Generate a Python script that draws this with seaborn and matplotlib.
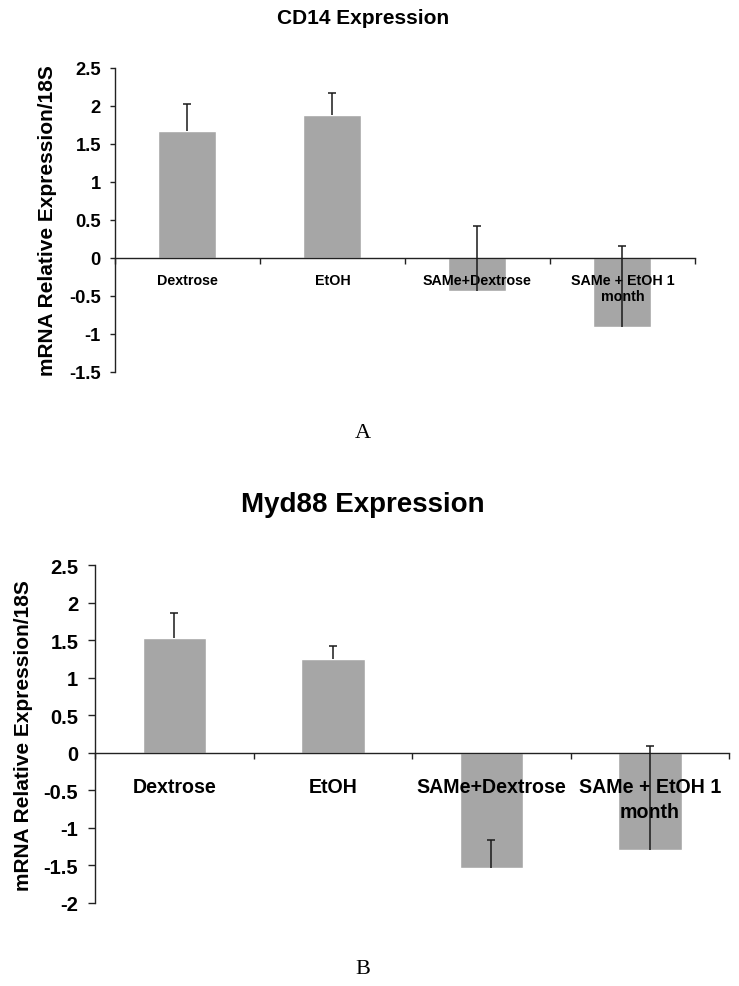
import numpy as np
import matplotlib
matplotlib.use("Agg")
import matplotlib.pyplot as plt
import seaborn as sns
from matplotlib.ticker import FuncFormatter

categories = ["Dextrose", "EtOH", "SAMe+Dextrose", "SAMe + EtOH 1\nmonth"]

cd14_values = [1.67, 1.88, -0.435, -0.905]
cd14_errors = [0.35, 0.295, 0.855, 1.06]

myd88_values = [1.53, 1.25, -1.54, -1.295]
myd88_errors = [0.335, 0.17, 0.38, 1.385]

cd14_yticks = [-1.5, -1, -0.5, 0, 0.5, 1, 1.5, 2, 2.5]
myd88_yticks = [-2, -1.5, -1, -0.5, 0, 0.5, 1, 1.5, 2, 2.5]

bar_color = "#a6a6a6"
err_color = "#1a1a1a"
axis_color = "#222222"

sns.set_theme(style="white")
plt.rcParams["font.family"] = ["Liberation Sans", "DejaVu Sans"]
plt.rcParams["font.weight"] = "bold"
plt.rcParams["text.color"] = "black"
plt.rcParams["axes.labelcolor"] = "black"
plt.rcParams["xtick.color"] = "black"
plt.rcParams["ytick.color"] = "black"


def draw_panel(ax, values, errors, yticks, tick_size, cat_size, cat_pad,
               line_gap, ytick_len, ytick_pad, ylabel_x):
    sns.barplot(x=categories, y=values, color=bar_color, width=0.4,
                saturation=1, ax=ax)
    xs = np.arange(len(values))
    tops = [v + e for v, e in zip(values, errors)]
    # plus-direction error bars only, like the Excel original
    ax.vlines(xs, values, tops, color=err_color, lw=1.1, zorder=3)
    ax.plot(xs, tops, ls="none", marker="_", ms=6, mew=1.1,
            color=err_color, zorder=3)

    ax.set_xlim(-0.5, len(values) - 0.5)
    ax.set_ylim(yticks[0], yticks[-1])
    ax.set_axisbelow(False)

    for side in ["top", "right"]:
        ax.spines[side].set_visible(False)
    ax.spines["bottom"].set_position(("data", 0))
    for side in ["left", "bottom"]:
        ax.spines[side].set_color(axis_color)
        ax.spines[side].set_linewidth(1.0)

    bounds = np.arange(len(values) + 1) - 0.5
    ax.set_xticks(bounds, labels=[""] * len(bounds))
    ax.set_xticks(xs, labels=categories, minor=True)
    ax.tick_params(axis="x", which="major", length=4, width=1.0,
                   color=axis_color, direction="out", bottom=True)
    ax.tick_params(axis="x", which="minor", length=0, pad=cat_pad,
                   labelsize=cat_size, bottom=True)
    for lbl in ax.get_xticklabels(minor=True):
        lbl.set_fontweight("bold")
        lbl.set_linespacing(line_gap)

    ax.set_yticks(yticks)
    ax.yaxis.set_major_formatter(FuncFormatter(lambda v, p: f"{v:g}"))
    ax.tick_params(axis="y", length=ytick_len, width=1.0, color=axis_color,
                   direction="out", left=True, pad=ytick_pad,
                   labelsize=tick_size)
    ax.set_xlabel("")
    ax.set_ylabel("mRNA Relative Expression/18S", fontsize=15,
                  fontweight="bold")
    ax.yaxis.set_label_coords(ylabel_x, 0.5)


fig = plt.figure(figsize=(7.39, 9.87), dpi=100)

ax1 = fig.add_axes([0.1556, 0.6221, 0.7848, 0.308])
draw_panel(ax1, cd14_values, cd14_errors, cd14_yticks, tick_size=13.2,
           cat_size=10.3, cat_pad=10.5, line_gap=1.25, ytick_len=3.6,
           ytick_pad=6.5, ylabel_x=-0.1)

ax2 = fig.add_axes([0.1286, 0.0841, 0.858, 0.342])
draw_panel(ax2, myd88_values, myd88_errors, myd88_yticks, tick_size=14.5,
           cat_size=14.1, cat_pad=17.5, line_gap=1.35, ytick_len=5,
           ytick_pad=7, ylabel_x=-0.098)

fig.text(363 / 739, 1 - 18 / 987, "CD14 Expression", ha="center",
         va="center", fontsize=15, fontweight="bold")
fig.text(363 / 739, 1 - 505 / 987, "Myd88 Expression", ha="center",
         va="center", fontsize=20, fontweight="bold")

fig.text(363 / 739, 1 - 434 / 987, "A", ha="center", va="center",
         fontsize=16, fontweight="normal", family="Liberation Serif")
fig.text(363 / 739, 1 - 970 / 987, "B", ha="center", va="center",
         fontsize=16, fontweight="normal", family="Liberation Serif")

fig.savefig("out.png", dpi=100)
